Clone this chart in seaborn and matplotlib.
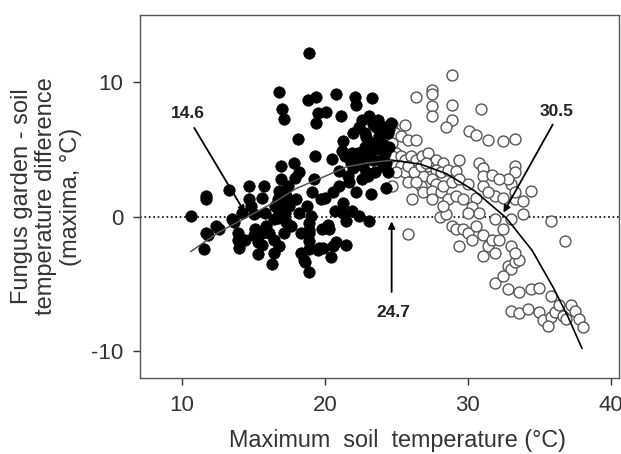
import matplotlib
matplotlib.use("Agg")
import matplotlib.pyplot as plt
import seaborn as sns
import pandas as pd

# filled symbols: cooler soils (x = max soil temp, y = garden - soil difference)
filled_x = [10.6, 11.7, 11.7, 11.5, 11.8, 11.7, 12.4, 12.6, 13.3, 13.5, 13.6, 13.9, 14.0, 14.2,
            14.7, 14.7, 14.8, 15.0, 15.1, 15.3, 15.3, 15.6, 15.7, 15.8, 15.9, 16.1, 15.6, 16.3,
            16.4, 16.4, 16.5, 16.7, 16.8, 16.9, 16.9, 16.8, 17.0, 17.1, 17.1, 17.2, 17.3, 17.4,
            17.5, 17.6, 17.8, 17.9, 18.0, 18.1, 18.2, 18.2, 18.3, 18.3, 18.5, 18.6, 18.75, 18.8,
            18.9, 18.9, 18.9, 19.0, 19.1, 19.2, 19.3, 19.4, 19.4, 19.5, 19.6, 19.7, 19.8, 19.9,
            20.0, 20.1, 20.3, 20.4, 20.5, 20.6, 20.6, 20.7, 20.8, 20.8, 21.0, 21.0, 21.1, 21.2,
            21.25, 21.3, 21.4, 21.5, 21.5, 21.6, 21.7, 21.7, 21.8, 21.9, 21.9, 22.0, 22.1, 22.2,
            22.2, 22.3, 22.4, 22.4, 22.5, 22.6, 22.6, 22.7, 22.8, 22.8, 22.9, 23.0, 23.1, 23.1,
            23.2, 23.3, 23.3, 23.4, 23.5, 23.6, 23.6, 23.75, 23.8, 23.9, 24.0, 24.0, 24.1, 24.2,
            24.2, 24.3, 24.4, 24.4, 24.5, 24.6, 14.4, 13.9, 15.0, 15.6, 16.4, 16.8, 17.3, 18.9,
            18.9, 18.9, 18.9, 16.7, 16.7, 17.1, 17.1, 17.4, 19.5, 20.2,
            22.9, 23.4, 23.9, 24.3, 21.3, 22.0, 24.5, 23.0]
filled_y = [0.05, 1.5, 1.3, -2.4, -1.4, -1.2, -0.7, -0.9, 2.0, -0.2, -0.4, -1.7, -2.3, 0.3,
            2.3, 1.3, 0.8, 0.2, -0.9, -1.9, -2.8, 1.4, 2.3, 0.3, -0.7, -1.2, -2.1, -3.5,
            -1.7, -0.2, 0.8, 1.3, 1.9, 2.8, 3.8, 9.3, 8.0, 7.3, -1.2, 0.3, 1.5, 2.3,
            0.8, -0.7, 4.0, 2.9, 1.3, 5.8, 3.3, 0.3, -1.2, -2.7, -3.2, -3.4, 0.8, 8.7,
            12.2, -4.1, -1.2, 0.05, 1.8, 2.8, 4.5, 7.0, 8.9, 7.7, -2.3, 1.3, -0.9, -2.3,
            1.4, 7.8, -0.9, -3.0, 4.3, 1.8, -2.2, 0.4, 9.1, -1.9, 2.3, 3.4, 7.5, 4.9,
            1.0, 0.3, 4.5, -2.1, -0.3, 3.0, 4.5, 2.6, 4.0, 0.4, 4.75, 6.2, 8.9, 8.3,
            1.8, 4.75, 6.7, 0.05, 4.25, 2.8, 7.2, 3.8, 5.2, 6.2, 3.3, 4.5, -0.3, 7.5,
            1.7, 8.8, 5.5, 4.25, 3.3, 6.7, 5.0, 7.2, 6.0, 4.25, 6.5, 5.5, 3.8, 6.7,
            4.75, 2.15, 6.2, 3.3, 5.2, 7.0, -1.7, -1.2, -1.4, -1.2, -2.7, -2.2, -0.4, -0.5,
            -1.0, -1.8, -2.4, 0.6, -0.1, 0.9, 0.4, 1.1, -2.5, -0.6,
            5.9, 6.9, 5.3, 4.0, 5.6, 3.6, 6.5, 3.0]

# open symbols: warmer soils
open_x = [24.7, 25.6, 24.9, 25.3, 25.8, 26.4, 24.7, 25.0, 24.7, 25.3, 25.6, 26.0, 26.4, 26.8,
          27.2, 24.7, 25.3, 25.6, 25.8, 26.1, 25.8, 26.4, 27.5, 27.5, 27.5, 27.5, 28.9, 28.9,
          28.9, 28.5, 30.9, 30.1, 30.6, 31.4, 32.5, 33.3, 27.8, 28.3, 27.2, 27.8, 28.1, 28.6,
          29.2, 29.4, 26.9, 27.5, 27.8, 26.7, 26.9, 27.5, 28.1, 28.3, 28.9, 29.4, 30.0, 28.6,
          29.2, 29.7, 30.6, 30.8, 31.1, 31.1, 31.7, 31.1, 31.9, 32.5, 33.3, 33.3, 33.05, 33.3,
          33.9, 34.4, 32.8, 31.9, 32.5, 33.05, 33.9, 30.3, 30.8, 30.0, 28.05, 28.5, 28.9, 29.2,
          29.4, 29.7, 30.0, 30.3, 30.6, 31.1, 31.1, 31.4, 31.7, 31.9, 32.2, 33.05, 32.8, 33.05,
          33.3, 33.6, 33.3, 31.9, 32.5, 32.8, 33.6, 34.4, 35.0, 35.8, 33.05, 33.6, 34.2, 35.0,
          35.3, 35.8, 35.6, 36.1, 36.7, 37.2, 37.5, 37.8, 38.1, 36.9, 36.4, 35.8, 36.8, 31.4,
          32.2, 33.3, 25.8, 26.25, 26.7, 25.0, 27.1, 26.4, 27.5, 28.3]
open_y = [6.9, 6.8, 6.2, 6.0, 5.7, 5.7, 5.5, 4.75, 4.5, 4.5, 4.25, 4.5, 4.25, 4.5,
          4.75, 2.3, 3.8, 3.3, 2.6, 1.3, -1.3, 8.9, 9.4, 9.1, 8.2, 7.5, 10.5, 8.3,
          7.2, 6.7, 8.0, 6.35, 6.1, 5.7, 5.6, 5.8, 4.25, 4.0, 3.8, 3.5, 3.3, 3.5,
          3.4, 4.25, 3.0, 2.8, 2.4, 2.3, 1.8, 1.9, 1.8, 2.3, 2.6, 2.8, 2.4, 1.3,
          1.5, 1.3, 1.4, 4.0, 3.6, 3.0, 3.1, 2.3, 1.5, 1.4, 3.8, 3.3, 2.4, 1.3,
          1.2, 1.9, 2.8, -0.2, -0.9, -0.2, 0.2, 0.7, 0.3, 0.3, 0.0, 0.2, -0.7, -0.9,
          -2.2, -0.9, -1.2, -1.7, -0.7, -1.4, -2.9, -2.2, -1.7, -2.7, -1.7, -2.2, -3.7, -3.9,
          -3.4, -3.2, -2.7, -4.9, -4.4, -5.4, -5.6, -5.4, -5.3, -5.9, -7.0, -7.2, -6.9, -7.1,
          -7.7, -7.5, -8.1, -7.1, -7.4, -6.6, -7.0, -7.6, -8.2, -7.6, -6.6, -0.3, -1.8, 1.8,
          2.8, 1.8, 3.8, 3.3, 3.8, 3.3, 4.0, 2.6, 1.3, 0.8]

# fitted curves
left_fit_x = [10.6, 12.5, 14.6, 16.5, 18.0, 20.0, 21.5, 23.0, 24.7]
left_fit_y = [-2.6, -1.2, 0.0, 1.1, 2.1, 3.0, 3.7, 4.0, 4.2]
right_fit_x = [24.7, 26.7, 28.5, 30.5, 32.7, 34.5, 36.0, 37.0, 38.0]
right_fit_y = [4.2, 3.9, 3.2, 1.9, -0.1, -2.5, -5.3, -7.4, -9.8]

sns.set_style("ticks")
plt.rcParams['font.family'] = ['Liberation Sans', 'DejaVu Sans']
plt.rcParams['axes.unicode_minus'] = False

filled = pd.DataFrame({'temp': filled_x, 'diff': filled_y})
opened = pd.DataFrame({'temp': open_x, 'diff': open_y})

fig = plt.figure(figsize=(6.21, 4.54), dpi=100)
ax = fig.add_axes([0.2254, 0.1674, 0.7716, 0.7996])

ax.axhline(0, color='black', ls=':', lw=1.2, zorder=1)

sns.scatterplot(data=opened, x='temp', y='diff', ax=ax, s=62, facecolor='white',
                edgecolor='#555555', linewidth=1.0, zorder=2)
sns.scatterplot(data=filled, x='temp', y='diff', ax=ax, s=68, color='black',
                edgecolor='black', linewidth=0.5, zorder=3)

sns.lineplot(x=left_fit_x, y=left_fit_y, ax=ax, color='#555555', lw=1.1,
             estimator=None, sort=False, zorder=4)
sns.lineplot(x=right_fit_x, y=right_fit_y, ax=ax, color='black', lw=1.2,
             estimator=None, sort=False, zorder=4)

bold_font = dict(family='Liberation Sans', weight='bold', size=12.5, color='#222222')
arrow = dict(arrowstyle='-|>', color='black', lw=1.3, mutation_scale=10, shrinkA=0, shrinkB=0)
ax.text(10.4, 7.7, '14.6', ha='center', va='center', **bold_font)
ax.annotate('', xy=(14.4, 0.3), xytext=(10.85, 6.6), arrowprops=arrow)
ax.text(24.8, -7.1, '24.7', ha='center', va='center', **bold_font)
ax.annotate('', xy=(24.67, -0.35), xytext=(24.67, -5.6), arrowprops=arrow)
ax.text(36.25, 7.8, '30.5', ha='center', va='center', **bold_font)
ax.annotate('', xy=(32.5, 0.3), xytext=(35.95, 6.85), arrowprops=arrow)

ax.set_xlim(7.05, 40.6)
ax.set_ylim(-12, 15)
ax.set_xticks([10, 20, 30, 40])
ax.set_yticks([-10, 0, 10])
ax.tick_params(axis='both', labelsize=16, colors='#333333', length=5, width=1, pad=7)
for side in ax.spines.values():
    side.set_color('#555555')
    side.set_linewidth(1.0)

ax.set_xlabel("Maximum  soil  temperature (°C)", fontsize=16.8, color='#333333')
ax.xaxis.set_label_coords(0.537, -0.14)
ax.set_ylabel("Fungus garden - soil\ntemperature difference\n(maxima, °C)", fontsize=17,
              color='#333333', linespacing=1.12)
ax.yaxis.set_label_coords(-0.122, 0.5)

fig.savefig("out.png", dpi=100)
